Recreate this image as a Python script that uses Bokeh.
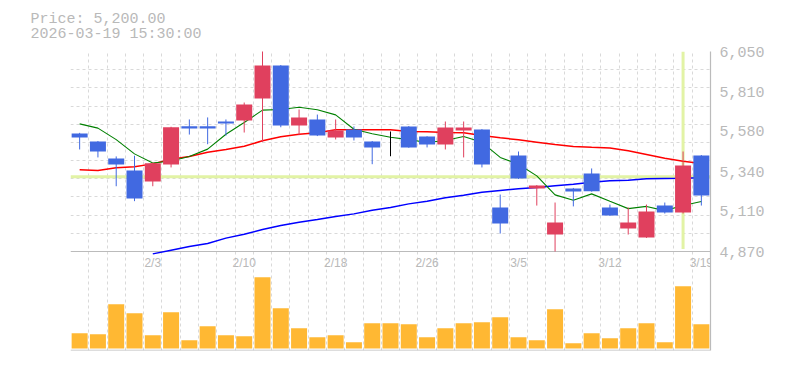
from bokeh.plotting import figure
from bokeh.models import (ColumnDataSource, Range1d, FixedTicker, Span, Title,
                          NumeralTickFormatter, Grid)
from bokeh.embed import file_html
from bokeh.resources import INLINE
from bokeh.core.properties import value

# ---------------- data ----------------
dates = ["1/28", "1/29", "1/30", "2/2", "2/3", "2/4", "2/5", "2/6", "2/9", "2/10",
         "2/12", "2/13", "2/16", "2/17", "2/18", "2/19", "2/20", "2/24", "2/25", "2/26",
         "2/27", "3/2", "3/3", "3/4", "3/5", "3/6", "3/9", "3/10", "3/11", "3/12",
         "3/13", "3/16", "3/17", "3/18", "3/19"]
opens = [5566, 5519, 5419, 5348, 5283, 5383, 5609, 5609, 5637, 5643,
         5773, 5967, 5613, 5649, 5543, 5590, 5519, 5554, 5608, 5548,
         5501, 5584, 5590, 5130, 5436, 5242, 4970, 5242, 5330, 5130,
         5006, 4953, 5141, 5100, 5436]
highs = [5570, 5522, 5431, 5435, 5395, 5606, 5649, 5661, 5649, 5749,
         6055, 5970, 5708, 5678, 5649, 5608, 5522, 5578, 5610, 5550,
         5637, 5637, 5592, 5206, 5460, 5262, 5159, 5245, 5360, 5147,
         5130, 5147, 5159, 5460, 5439]
lows = [5472, 5425, 5255, 5167, 5255, 5366, 5560, 5503, 5554, 5572,
        5515, 5603, 5556, 5551, 5531, 5525, 5385, 5432, 5482, 5484,
        5472, 5425, 5366, 4976, 5298, 5141, 4870, 5136, 5223, 5080,
        4970, 4950, 5094, 5094, 5141]
closes = [5543, 5460, 5383, 5183, 5391, 5603, 5596, 5596, 5625, 5737,
          5967, 5613, 5661, 5554, 5584, 5543, 5484, 5554, 5484, 5501,
          5602, 5602, 5383, 5035, 5301, 5259, 5041, 5224, 5226, 5082,
          5041, 5106, 5100, 5377, 5200]
volumes = [15300, 14300, 44300, 35300, 13300, 36300, 8300, 22300, 13300, 12300,
           71300, 40300, 20300, 11300, 13300, 6300, 25300, 25300, 24300, 11300,
           20300, 25300, 26300, 31300, 11300, 8300, 39300, 5300, 15300, 10300,
           20300, 25300, 6300, 62300, 24300]
ma_short = [5623, 5598, 5530, 5446, 5392, 5404, 5431, 5474, 5562, 5631,
            5704, 5708, 5721, 5706, 5676, 5591, 5565, 5544, 5530, 5513,
            5525, 5549, 5514, 5425, 5385, 5316, 5204, 5172, 5210, 5166,
            5123, 5136, 5111, 5141, 5165]
ma_mid = [5352, 5348, 5364, 5370, 5387, 5415, 5431, 5456, 5472, 5491,
          5523, 5547, 5562, 5570, 5588, 5588, 5588, 5588, 5578, 5576,
          5572, 5570, 5554, 5541, 5529, 5515, 5501, 5490, 5485, 5481,
          5464, 5442, 5420, 5403, 5389]
nan = float("nan")
ma_long = [nan, nan, nan, nan, 4856, 4878, 4900, 4917, 4949, 4972,
           5000, 5023, 5043, 5059, 5076, 5092, 5114, 5130, 5151, 5167,
           5187, 5202, 5220, 5230, 5240, 5248, 5258, 5267, 5279, 5287,
           5291, 5299, 5301, 5302, 5305]
tick_dates = ["2/3", "2/10", "2/18", "2/26", "3/5", "3/12", "3/19"]
price_ticks = [4870, 5110, 5340, 5580, 5810, 6050]
price_min, price_max = 4870, 6050
cross_index = 33
cross_price = 5311
header_price = "Price: 5,200.00"
header_time = "2026-03-19 15:30:00"

# ---------------- styles ----------------
UP, DOWN, EVEN = "#e0405e", "#4169e1", "#000000"
GRID = "#d9d9d9"
AXIS = "#bbbbbb"
TEXT = "#b9b9b9"
CROSS = "#e2f3a5"
VOL = "#ffb833"
MONO = "Liberation Mono"

n = len(dates)
idx = list(range(n))
colors = [UP if c > o else (DOWN if c < o else EVEN) for o, c in zip(opens, closes)]
src = ColumnDataSource(dict(
    x=idx, o=opens, h=highs, l=lows, c=closes, v=volumes,
    top=[max(o, c) for o, c in zip(opens, closes)],
    bot=[min(o, c) for o, c in zip(opens, closes)],
    col=colors, ma1=ma_short, ma2=ma_mid, ma3=ma_long,
))
doji = ColumnDataSource(dict(
    x=[i for i in idx if opens[i] == closes[i]],
    y=[closes[i] for i in idx if opens[i] == closes[i]],
))

# layout (canvas pixels)
LEFT, TOP, FRAME_W, FRAME_H = 70, 51, 640, 299

# price occupies the upper 200 px of the frame
px_per_yen = 200.0 / (price_max - price_min)
y_start = price_max - FRAME_H / px_per_yen

p = figure(frame_width=FRAME_W, frame_height=FRAME_H,
           x_range=Range1d(-0.5, n - 0.5), y_range=Range1d(y_start, price_max),
           x_axis_location=None, y_axis_location="right",
           toolbar_location=None, output_backend="svg",
           min_border_left=LEFT, min_border_top=TOP, min_border_bottom=8,
           min_border_right=4, outline_line_color=None,
           background_fill_color="white", border_fill_color="white")
p.extra_y_ranges = {"vol": Range1d(-2000, 297000)}

# two-line header as a single title
p.title = Title(text=header_price + "\n" + header_time, align="left", offset=30 - LEFT,
                standoff=16, text_font=MONO, text_font_size="15px", text_color=TEXT,
                text_font_style="normal", text_line_height=0.92)

# remove default grids, add custom ones
p.center = [r for r in p.center if not isinstance(r, Grid)]
xg = Grid(dimension=0, ticker=FixedTicker(ticks=[i - 0.5 for i in range(n + 1)]),
          grid_line_color=GRID, grid_line_dash="3 3", grid_line_width=1)
yg = Grid(dimension=1,
          ticker=FixedTicker(ticks=[price_min + k * (price_max - price_min) / 11 for k in range(1, 12)]),
          grid_line_color=GRID, grid_line_dash="3 3", grid_line_width=1)
p.add_layout(xg, "center")
p.add_layout(yg, "center")

# price axis baseline and bottom axis line
p.add_layout(Span(location=price_min, dimension="width", line_color=AXIS, line_width=1.2, level="underlay"))
p.add_layout(Span(location=-2000, dimension="width", y_range_name="vol", line_color=AXIS, line_width=1.5))

# crosshair
p.add_layout(Span(location=cross_price, dimension="width", line_color=CROSS, line_width=3, level="underlay"))
p.segment(x0=[cross_index], x1=[cross_index], y0=[price_min + 15], y1=[price_max],
          line_color=CROSS, line_width=3)

# volume
p.vbar(x="x", top="v", bottom=0, width=0.875, fill_color=VOL, line_color=None,
       y_range_name="vol", source=src)

# moving averages
p.line("x", "ma3", source=src, line_color="#0000ff", line_width=1.5)
p.line("x", "ma2", source=src, line_color="#ff0000", line_width=1.5)
p.line("x", "ma1", source=src, line_color="#008000", line_width=1.1)

# candles
p.segment(x0="x", x1="x", y0="l", y1="h", line_color="col", line_width=1, source=src)
p.vbar(x="x", top="top", bottom="bot", width=0.875, fill_color="col", line_color=None, source=src)
p.rect(x="x", y="y", width=0.875, height=0, line_color=EVEN, line_width=1, source=doji)

# date labels between the panels
tick_idx = [dates.index(d) for d in tick_dates]
label_price = price_max - (211.5 / px_per_yen)
p.text(x=tick_idx, y=[label_price] * len(tick_idx), text=tick_dates,
       text_font=value("Liberation Sans"), text_font_size="12px", text_color=TEXT,
       text_align="center", text_baseline="middle")

# right price axis
ax = p.yaxis[0]
ax.ticker = FixedTicker(ticks=price_ticks)
ax.formatter = NumeralTickFormatter(format="0,0")
ax.axis_line_color = AXIS
ax.axis_line_width = 1.2
ax.major_tick_line_color = None
ax.minor_tick_line_color = None
ax.major_tick_out = 0
ax.major_tick_in = 0
ax.major_label_standoff = 9
ax.major_label_text_font = MONO
ax.major_label_text_font_size = "15px"
ax.major_label_text_color = TEXT

open("out.html", "w").write(file_html(p, INLINE))
